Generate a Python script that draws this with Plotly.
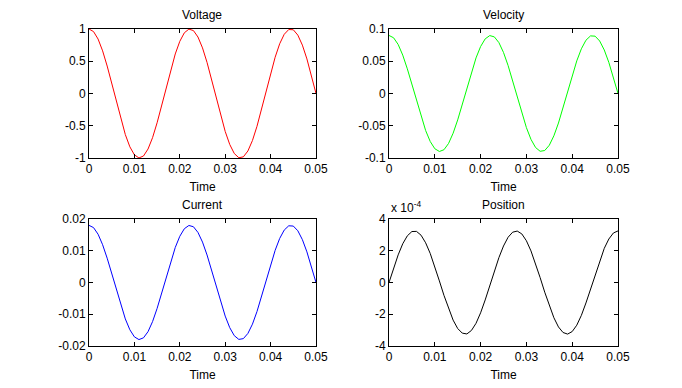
import plotly.graph_objects as go

time = [round(k * 0.001, 3) for k in range(51)]

voltage = [1.000, 0.960, 0.844, 0.661, 0.426, 0.156, -0.125, -0.397, -0.637, -0.827,
           -0.951, -0.999, -0.969, -0.861, -0.685, -0.454, -0.187, 0.094, 0.368, 0.613,
           0.809, 0.941, 0.998, 0.976, 0.876, 0.707, 0.482, 0.218, -0.063, -0.339,
           -0.588, -0.790, -0.930, -0.996, -0.982, -0.891, -0.729, -0.509, -0.249, 0.031,
           0.309, 0.562, 0.771, 0.918, 0.992, 0.988, 0.905, 0.750, 0.536, 0.279, 0.000]

velocity = [0.0900, 0.0864, 0.0760, 0.0595, 0.0383, 0.0141, -0.0113, -0.0357, -0.0574, -0.0744,
            -0.0856, -0.0899, -0.0872, -0.0775, -0.0616, -0.0409, -0.0169, 0.0085, 0.0331, 0.0552,
            0.0728, 0.0847, 0.0898, 0.0878, 0.0789, 0.0636, 0.0434, 0.0196, -0.0057, -0.0305,
            -0.0529, -0.0711, -0.0837, -0.0896, -0.0884, -0.0802, -0.0656, -0.0458, -0.0224, 0.0028,
            0.0278, 0.0506, 0.0693, 0.0826, 0.0893, 0.0889, 0.0814, 0.0675, 0.0482, 0.0251, 0.0000]

current = [0.01800, 0.01729, 0.01520, 0.01190, 0.00766, 0.00282, -0.00226, -0.00715, -0.01147, -0.01489,
           -0.01712, -0.01798, -0.01743, -0.01549, -0.01232, -0.00817, -0.00337, 0.00169, 0.00663, 0.01103,
           0.01456, 0.01694, 0.01796, 0.01757, 0.01577, 0.01273, 0.00867, 0.00393, -0.00113, -0.00610,
           -0.01058, -0.01422, -0.01674, -0.01792, -0.01768, -0.01604, -0.01312, -0.00916, -0.00448, 0.00057,
           0.00556, 0.01012, 0.01387, 0.01652, 0.01786, 0.01778, 0.01629, 0.01350, 0.00964, 0.00502, 0.00000]

position = [0.00e-4, 0.91e-4, 1.74e-4, 2.44e-4, 2.94e-4, 3.21e-4, 3.22e-4, 2.98e-4, 2.50e-4, 1.83e-4,
            1.00e-4, 0.10e-4, -0.81e-4, -1.65e-4, -2.37e-4, -2.90e-4, -3.19e-4, -3.24e-4, -3.02e-4, -2.57e-4,
            -1.91e-4, -1.10e-4, -0.20e-4, 0.71e-4, 1.57e-4, 2.30e-4, 2.85e-4, 3.17e-4, 3.24e-4, 3.06e-4,
            2.63e-4, 1.99e-4, 1.20e-4, 0.31e-4, -0.61e-4, -1.48e-4, -2.22e-4, -2.80e-4, -3.15e-4, -3.25e-4,
            -3.09e-4, -2.69e-4, -2.07e-4, -1.29e-4, -0.41e-4, 0.51e-4, 1.38e-4, 2.15e-4, 2.74e-4, 3.12e-4, 3.25e-4]

titles = ["Voltage", "Velocity", "Current", "Position"]
colors = ["#ff0000", "#00ff00", "#0000ff", "#000000"]
series = [voltage, velocity, current, position]

x_ticks = [0, 0.01, 0.02, 0.03, 0.04, 0.05]
x_ticktext = ["0", "0.01", "0.02", "0.03", "0.04", "0.05"]
y_ticks = [
    [-1, -0.5, 0, 0.5, 1],
    [-0.1, -0.05, 0, 0.05, 0.1],
    [-0.02, -0.01, 0, 0.01, 0.02],
    [-4e-4, -2e-4, 0, 2e-4, 4e-4],
]
y_ticktext = [
    ["-1", "-0.5", "0", "0.5", "1"],
    ["-0.1", "-0.05", "0", "0.05", "0.1"],
    ["-0.02", "-0.01", "0", "0.01", "0.02"],
    ["-4", "-2", "0", "2", "4"],
]
y_ranges = [[-1, 1], [-0.1, 0.1], [-0.02, 0.02], [-4e-4, 4e-4]]

W, H = 682, 388
xdoms = [[89 / W, 316 / W], [389 / W, 618 / W]]
ydoms = [[1 - 158 / H, 1 - 29 / H], [1 - 346 / H, 1 - 219 / H]]

font = dict(family="Liberation Sans, Arial, sans-serif", size=12, color="black")

fig = go.Figure()
annotations = []
for i in range(4):
    r, c = divmod(i, 2)
    n = i + 1
    xa = "x" if n == 1 else f"x{n}"
    ya = "y" if n == 1 else f"y{n}"
    fig.add_trace(go.Scatter(x=time, y=series[i], mode="lines",
                             line=dict(color=colors[i], width=1),
                             xaxis=xa, yaxis=ya, showlegend=False,
                             hoverinfo="skip"))
    axis_common = dict(showline=True, linecolor="black", linewidth=1, mirror="ticks",
                       ticks="inside", ticklen=4, tickcolor="black", tickwidth=1,
                       showgrid=False, zeroline=False, tickfont=font, automargin=False)
    fig.layout[f"xaxis{n if n > 1 else ''}"] = dict(
        domain=xdoms[c], anchor=ya, range=[0, 0.05], tickvals=x_ticks, ticktext=x_ticktext,
        title=dict(text="Time", font=font, standoff=7), **axis_common)
    fig.layout[f"yaxis{n if n > 1 else ''}"] = dict(
        domain=ydoms[r], anchor=xa, range=y_ranges[i], tickvals=y_ticks[i], ticktext=y_ticktext[i],
        **axis_common)
    annotations.append(dict(text=titles[i], x=sum(xdoms[c]) / 2, y=ydoms[r][1], xref="paper", yref="paper",
                            xanchor="center", yanchor="bottom", yshift=5, showarrow=False, font=font))

annotations.append(dict(text="x 10<sup>-4</sup>", x=xdoms[1][0], y=ydoms[1][1], xref="paper", yref="paper",
                        xanchor="left", yanchor="bottom", yshift=2, showarrow=False, font=font))

fig.update_layout(width=W, height=H, margin=dict(l=0, r=0, t=0, b=0),
                  paper_bgcolor="white", plot_bgcolor="white", annotations=annotations)

fig.write_html("out.html", config={"displayModeBar": False},
               post_script="document.body.style.margin='0';document.body.style.overflow='hidden';")
